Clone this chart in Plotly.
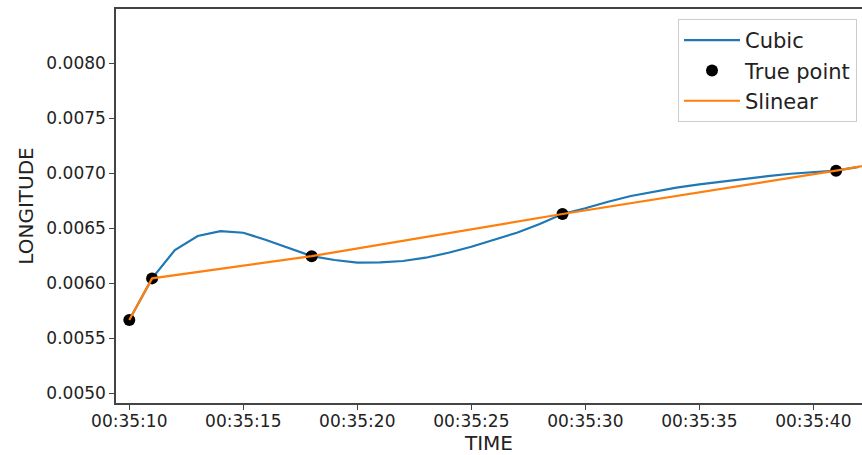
import plotly.graph_objects as go

BASE = "2019-01-01 00:35:"

# True points (seconds after 00:35:00)
true_sec = [10, 11, 18, 29, 41]
true_val = [0.005666, 0.006045, 0.006247, 0.006630, 0.007024]

# Cubic interpolation sampled each second
cubic_sec = list(range(10, 43))
cubic_val = [0.005666, 0.006045, 0.006303, 0.006430, 0.006475, 0.006460, 0.006394,
             0.006318, 0.006247, 0.006212, 0.006188, 0.006191, 0.006203, 0.006233,
             0.006278, 0.006333, 0.006394, 0.006460, 0.006539, 0.006630, 0.006682,
             0.006742, 0.006794, 0.006833, 0.006870, 0.006900, 0.006927, 0.006951,
             0.006975, 0.006996, 0.007012, 0.007024, 0.007058]

# Slinear interpolation (continues past the visible range)
slinear_sec = [10, 11, 18, 29, 41, 43]
slinear_val = [0.005666, 0.006045, 0.006247, 0.006630, 0.007024, 0.007096]

x_ticks_sec = [10, 15, 20, 25, 30, 35, 40]
y_ticks = [0.0050, 0.0055, 0.0060, 0.0065, 0.0070, 0.0075, 0.0080]


def ts(s):
    whole = int(s)
    ms = int(round((s - whole) * 1000))
    return f"{BASE}{whole:02d}.{ms:03d}"


fig = go.Figure()
fig.add_trace(go.Scatter(x=[ts(s) for s in cubic_sec], y=cubic_val, mode="lines",
                         name="Cubic", line=dict(color="#1f77b4", width=2.2)))
fig.add_trace(go.Scatter(x=[ts(s) for s in true_sec], y=true_val, mode="markers",
                         name="True point", marker=dict(color="black", size=12)))
fig.add_trace(go.Scatter(x=[ts(s) for s in slinear_sec], y=slinear_val, mode="lines",
                         name="Slinear", line=dict(color="#ff7f0e", width=2.2)))

font = "DejaVu Sans"
fig.update_layout(
    width=862, height=455,
    margin=dict(l=116, r=0, t=9, b=52),
    paper_bgcolor="white", plot_bgcolor="white",
    font=dict(family=font, color="#222", size=17),
    legend=dict(x=0.9933, y=0.9746, xanchor="right", yanchor="top",
                bgcolor="rgba(255,255,255,0.8)", bordercolor="#cccccc", borderwidth=1,
                font=dict(size=21, family=font, color="#222"), itemwidth=56,
                tracegroupgap=0),
    xaxis=dict(
        range=[ts(9.417), ts(42.136)],
        tickvals=[ts(s) for s in x_ticks_sec],
        ticktext=[f"00:35:{s:02d}" for s in x_ticks_sec],
        showgrid=False, zeroline=False,
        showline=True, linecolor="#444", linewidth=1.5, mirror=True,
        ticks="outside", ticklen=5, tickcolor="#444",
        tickfont=dict(size=17), ticklabelstandoff=-3,
        title=dict(text="TIME", font=dict(size=20), standoff=4),
    ),
    yaxis=dict(
        range=[0.004912, 0.008494],
        tickvals=y_ticks,
        ticktext=[f"{v:.4f}" for v in y_ticks],
        showgrid=False, zeroline=False,
        showline=True, linecolor="#444", linewidth=1.5,
        ticks="outside", ticklen=5, tickcolor="#444",
        tickfont=dict(size=17),
        title=dict(text="LONGITUDE", font=dict(size=20), standoff=7),
    ),
)

fig.write_html("out.html", config={"displayModeBar": False})

# remove the browser's default body margin so the figure sits at (0, 0)
with open("out.html", encoding="utf-8") as f:
    html = f.read()
html = html.replace("<body>", '<body style="margin:0;padding:0;overflow:hidden">', 1)
with open("out.html", "w", encoding="utf-8") as f:
    f.write(html)
